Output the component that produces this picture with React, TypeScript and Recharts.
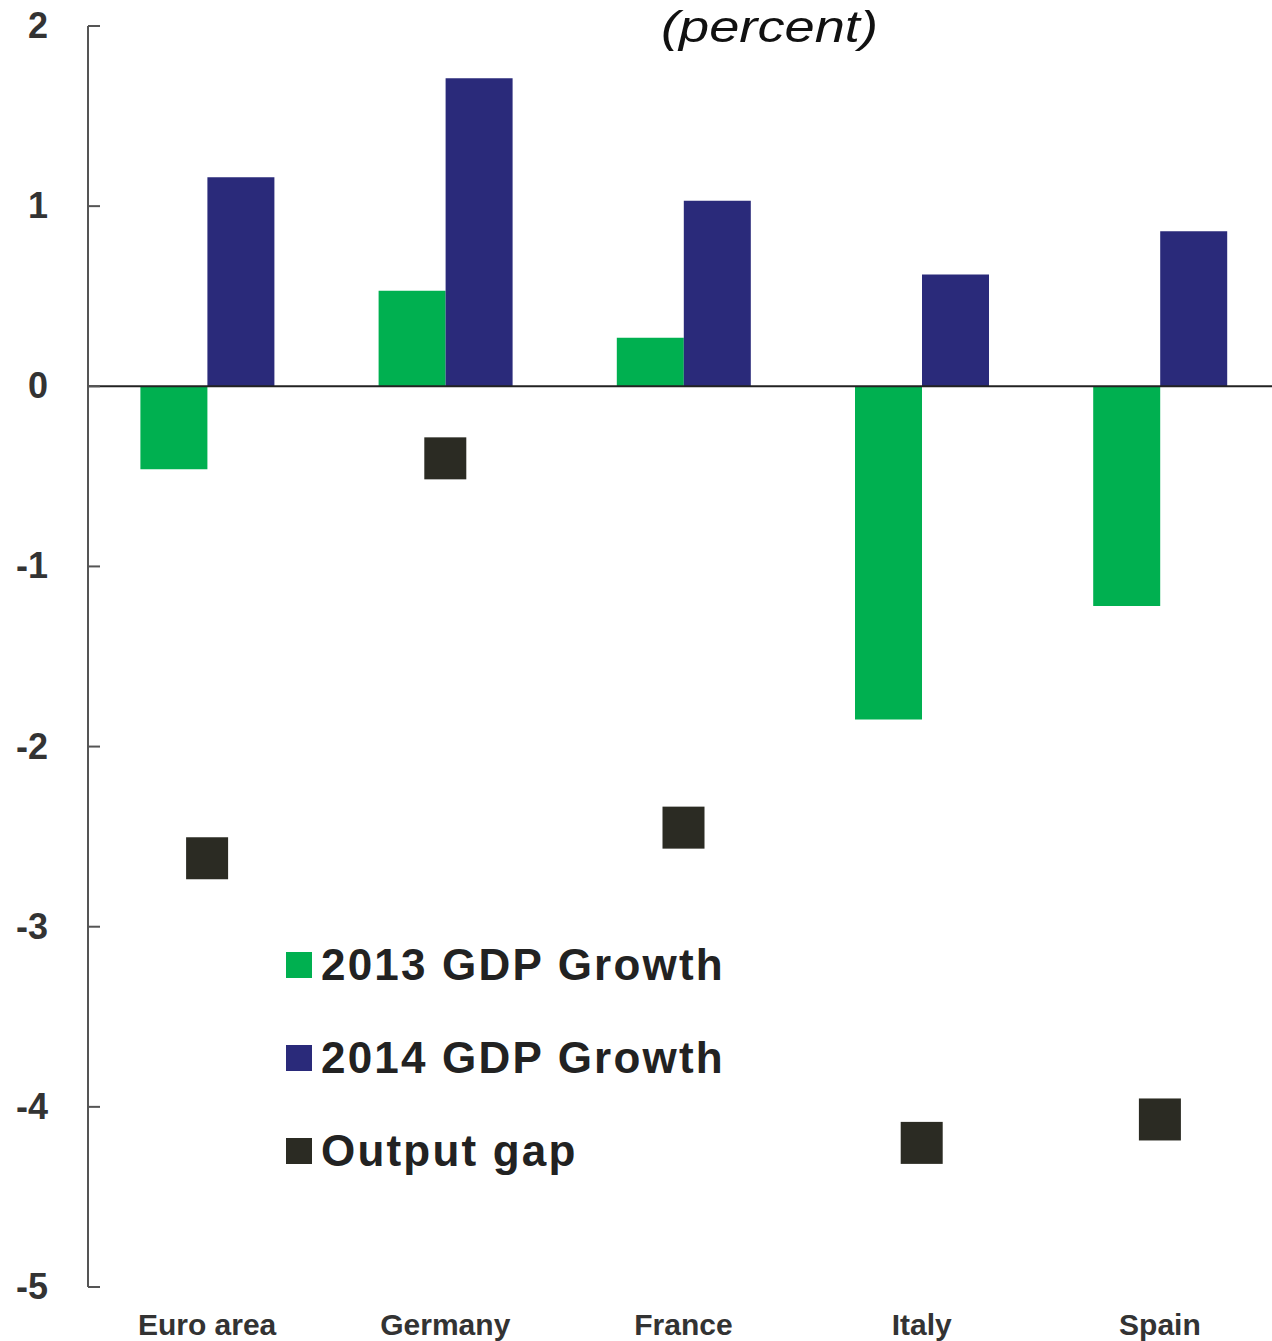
import React from 'react';
import {
  ComposedChart,
  Bar,
  Scatter,
  XAxis,
  YAxis,
  ReferenceLine,
  Legend,
} from 'recharts';

const countries = ['Euro area', 'Germany', 'France', 'Italy', 'Spain'];
const growth2013 = [-0.46, 0.53, 0.27, -1.85, -1.22];
const growth2014 = [1.16, 1.71, 1.03, 0.62, 0.86];
const outputGap = [-2.62, -0.4, -2.45, -4.2, -4.07];
const yTicks = [-5, -4, -3, -2, -1, 0, 1, 2];

const GREEN = '#00b050';
const BLUE = '#2a2a7a';
const DARK = '#2b2b23';

const legendItems = [
  { name: '2013 GDP Growth', color: GREEN },
  { name: '2014 GDP Growth', color: BLUE },
  { name: 'Output gap', color: DARK },
];

const data = countries.map((name, i) => ({
  name,
  g13: growth2013[i],
  g14: growth2014[i],
  gap: outputGap[i],
}));

const FONT = '"Liberation Sans", Arial, sans-serif';

function YTick(props: any) {
  const { x, y, payload } = props;
  return (
    <g>
      <line x1={x + 40} x2={x + 52} y1={y} y2={y} stroke="#555" strokeWidth={2} />
      <text
        x={x}
        y={y}
        dy={12}
        textAnchor="end"
        fontFamily={FONT}
        fontWeight="bold"
        fontSize={36}
        fill="#333"
      >
        {payload.value}
      </text>
    </g>
  );
}

function XTick(props: any) {
  const { x, y, payload } = props;
  return (
    <text
      x={x}
      y={y}
      dy={40}
      textAnchor="middle"
      fontFamily={FONT}
      fontWeight="bold"
      fontSize={30}
      fill="#333"
    >
      {payload.value}
    </text>
  );
}

function GapSquare(props: any) {
  const { cx, cy } = props;
  if (cx == null || cy == null) return null;
  return <rect x={cx - 21} y={cy - 21} width={42} height={42} fill={DARK} />;
}

function LegendBox() {
  return (
    <div style={{ fontFamily: FONT }}>
      {legendItems.map((it) => (
        <div
          key={it.name}
          style={{ display: 'flex', alignItems: 'center', height: 93 }}
        >
          <span
            style={{
              display: 'inline-block',
              width: 26,
              height: 26,
              background: it.color,
              marginRight: 9,
            }}
          />
          <span
            style={{
              fontSize: 44,
              fontWeight: 'bold',
              color: '#222',
              letterSpacing: 2.2,
              whiteSpace: 'nowrap',
            }}
          >
            {it.name}
          </span>
        </div>
      ))}
    </div>
  );
}

export default function App() {
  return (
    <div
      style={{
        position: 'fixed',
        left: 0,
        top: 0,
        width: 1272,
        height: 1341,
        overflow: 'hidden',
        background: '#fff',
      }}
    >
      <ComposedChart
        width={1280}
        height={1341}
        data={data}
        margin={{ top: 26, right: 1, bottom: 0, left: 0 }}
        barCategoryGap="22%"
        barGap={0}
      >
        <XAxis
          dataKey="name"
          height={54}
          axisLine={false}
          tickLine={false}
          tick={<XTick />}
          interval={0}
        />
        <YAxis
          width={88}
          domain={[-5, 2]}
          ticks={yTicks}
          interval={0}
          tickSize={0}
          tickMargin={40}
          tickLine={false}
          axisLine={{ stroke: '#555', strokeWidth: 2 }}
          tick={<YTick />}
        />
        <ReferenceLine y={0} stroke="#222" strokeWidth={2} />
        <Bar dataKey="g13" fill={GREEN} isAnimationActive={false} />
        <Bar dataKey="g14" fill={BLUE} isAnimationActive={false} />
        <Scatter dataKey="gap" fill={DARK} shape={<GapSquare />} isAnimationActive={false} />
        <Legend
          layout="vertical"
          align="center"
          verticalAlign="middle"
          content={() => <LegendBox />}
          wrapperStyle={{ position: 'absolute', left: 286, top: 918, width: 480 }}
        />
      </ComposedChart>
      <svg
        width={1272}
        height={60}
        style={{ position: 'absolute', left: 0, top: 0, pointerEvents: 'none' }}
      >
        <text
          x={661}
          y={42}
          fontFamily={FONT}
          fontStyle="italic"
          fontSize={44}
          textLength={217}
          lengthAdjust="spacingAndGlyphs"
          fill="#111"
        >
          (percent)
        </text>
      </svg>
    </div>
  );
}
